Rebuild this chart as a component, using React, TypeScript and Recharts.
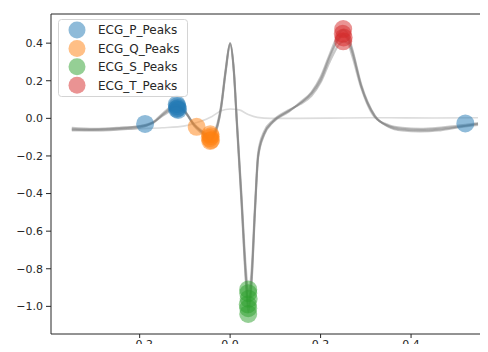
import { ComposedChart, Line, Scatter, XAxis, YAxis, Legend, ReferenceLine } from 'recharts'

// time (s) relative to the R peak, shared by the overlaid heartbeats
const beatTimes = [
  -0.35, -0.3, -0.25, -0.2, -0.17, -0.145, -0.12, -0.1, -0.08, -0.06, -0.045, -0.035, -0.02, -0.01, 0.0,
  0.008, 0.015, 0.025, 0.035, 0.04, 0.047, 0.055, 0.062, 0.075, 0.095, 0.13, 0.155, 0.18, 0.2, 0.22, 0.24,
  0.25, 0.26, 0.27, 0.29, 0.32, 0.35, 0.38, 0.42, 0.46, 0.5, 0.548,
]
const beatA = [
  -0.055, -0.06, -0.055, -0.045, -0.025, 0.025, 0.06, 0.035, -0.035, -0.075, -0.1, -0.08, 0.06, 0.25, 0.4,
  0.26, -0.02, -0.42, -0.84, -0.97, -0.86, -0.48, -0.2, -0.08, -0.015, 0.04, 0.08, 0.13, 0.2, 0.32, 0.42,
  0.44, 0.42, 0.35, 0.17, 0.01, -0.04, -0.055, -0.06, -0.055, -0.045, -0.03,
]
const beatB = [
  -0.065, -0.065, -0.06, -0.05, -0.02, 0.035, 0.075, 0.04, -0.04, -0.085, -0.12, -0.095, 0.05, 0.24, 0.39,
  0.25, -0.04, -0.45, -0.88, -1.03, -0.9, -0.5, -0.21, -0.09, -0.02, 0.035, 0.085, 0.14, 0.22, 0.34, 0.45,
  0.47, 0.45, 0.37, 0.18, 0.015, -0.045, -0.065, -0.07, -0.065, -0.05, -0.035,
]
const beatC = [
  -0.05, -0.055, -0.05, -0.04, -0.02, 0.02, 0.05, 0.03, -0.03, -0.07, -0.09, -0.07, 0.07, 0.26, 0.4,
  0.27, -0.01, -0.4, -0.8, -0.92, -0.82, -0.46, -0.18, -0.07, -0.01, 0.045, 0.075, 0.12, 0.19, 0.3, 0.39,
  0.41, 0.4, 0.33, 0.16, 0.005, -0.035, -0.05, -0.055, -0.05, -0.04, -0.025,
]
const beatD = [
  -0.06, -0.058, -0.052, -0.042, -0.022, 0.03, 0.065, 0.038, -0.032, -0.08, -0.11, -0.088, 0.055, 0.25, 0.4,
  0.26, -0.03, -0.43, -0.86, -1.0, -0.88, -0.49, -0.2, -0.085, -0.018, 0.04, 0.08, 0.135, 0.21, 0.33, 0.43,
  0.45, 0.43, 0.36, 0.17, 0.012, -0.042, -0.06, -0.065, -0.06, -0.048, -0.028,
]
// one flattened beat drawn in light grey
const lightTimes = [-0.35, -0.3, -0.25, -0.2, -0.15, -0.1, -0.07, -0.04, -0.02, 0.0, 0.02, 0.04, 0.06, 0.09, 0.15, 0.25, 0.35, 0.45, 0.548]
const lightValues = [-0.06, -0.065, -0.06, -0.055, -0.05, -0.04, -0.02, 0.01, 0.04, 0.05, 0.045, 0.02, 0.005, 0.0, 0.0, 0.002, 0.003, 0.002, 0.003]

const pPeakX = [-0.188, -0.118, -0.117, -0.116, -0.118, -0.115, 0.52]
const pPeakY = [-0.03, 0.075, 0.065, 0.055, 0.05, 0.045, -0.027]
const qPeakX = [-0.074, -0.044, -0.043, -0.045, -0.042, -0.044]
const qPeakY = [-0.045, -0.085, -0.095, -0.105, -0.115, -0.12]
const sPeakX = [0.04, 0.04, 0.041, 0.039, 0.04, 0.04]
const sPeakY = [-0.91, -0.93, -0.96, -0.99, -1.01, -1.04]
const tPeakX = [0.25, 0.251, 0.249, 0.25]
const tPeakY = [0.41, 0.43, 0.45, 0.475]

const xTicks = [-0.2, 0.0, 0.2, 0.4]
const yTicks = [-1.0, -0.8, -0.6, -0.4, -0.2, 0.0, 0.2, 0.4]
const yMax = 0.555

const peakSeries = [
  { name: 'ECG_P_Peaks', color: '#1f77b4', xs: pPeakX, ys: pPeakY },
  { name: 'ECG_Q_Peaks', color: '#ff7f0e', xs: qPeakX, ys: qPeakY },
  { name: 'ECG_S_Peaks', color: '#2ca02c', xs: sPeakX, ys: sPeakY },
  { name: 'ECG_T_Peaks', color: '#d62728', xs: tPeakX, ys: tPeakY },
]

const toPoints = (xs: number[], ys: number[]) => xs.map((x, i) => ({ x, y: ys[i] }))
const beats = [beatA, beatB, beatC, beatD].map((b) => toPoints(beatTimes, b))
const fmt = (v: number) => v.toFixed(1).replace('-', '\u2212')
const tickStyle = { fontSize: 11, fill: '#262626', fontFamily: 'DejaVu Sans' }

function LegendBox() {
  return (
    <svg width={130} height={78} style={{ display: 'block' }}>
      <rect x={0.5} y={0.5} width={129} height={77} rx={3} fill="#fff" fillOpacity={0.8} stroke="#d4d4d4" />
      {peakSeries.map((s, i) => {
        const cy = 11 + i * 18.4
        return (
          <g key={s.name}>
            <circle cx={19} cy={cy} r={8.5} fill={s.color} fillOpacity={0.5} />
            <text x={40} y={cy + 4.3} fontSize={12} fontFamily="DejaVu Sans" fill="#262626">
              {s.name}
            </text>
          </g>
        )
      })}
    </svg>
  )
}

export default function App() {
  return (
    <div style={{ position: 'relative', margin: -8, width: 488, height: 352, overflow: 'hidden', background: '#fff' }}>
      <ComposedChart width={520} height={352} margin={{ top: 14, right: 23, bottom: 0, left: 0 }}>
        <XAxis
          type="number"
          dataKey="x"
          domain={[-0.396, 0.59]}
          ticks={xTicks}
          tickFormatter={fmt}
          allowDataOverflow
          height={18}
          tickSize={4}
          tickMargin={2}
          tick={tickStyle}
          stroke="#262626"
        />
        <YAxis
          type="number"
          dataKey="y"
          domain={[-1.147, yMax]}
          ticks={yTicks}
          tickFormatter={fmt}
          allowDataOverflow
          width={51}
          tickSize={5}
          tickMargin={3}
          tick={tickStyle}
          stroke="#262626"
        />
        <ReferenceLine y={yMax} stroke="#262626" strokeWidth={1} />
        <Line
          data={toPoints(lightTimes, lightValues)}
          dataKey="y"
          type="monotone"
          stroke="#dcdcdc"
          strokeWidth={1.6}
          dot={false}
          activeDot={false}
          legendType="none"
          isAnimationActive={false}
        />
        {beats.map((pts, i) => (
          <Line
            key={i}
            data={pts}
            dataKey="y"
            type="monotone"
            stroke="#7f7f7f"
            strokeOpacity={0.42}
            strokeWidth={2}
            dot={false}
            activeDot={false}
            legendType="none"
            isAnimationActive={false}
          />
        ))}
        {peakSeries.map((s) => (
          <Scatter
            key={s.name}
            name={s.name}
            data={toPoints(s.xs, s.ys)}
            dataKey="y"
            fill={s.color}
            isAnimationActive={false}
            shape={(p: any) => <circle cx={p.cx} cy={p.cy} r={9} fill={s.color} fillOpacity={0.5} />}
          />
        ))}
        <Legend
          layout="vertical"
          align="center"
          verticalAlign="middle"
          content={() => <LegendBox />}
          wrapperStyle={{ left: 58, top: 19, width: 130, height: 78 }}
        />
      </ComposedChart>
    </div>
  )
}
